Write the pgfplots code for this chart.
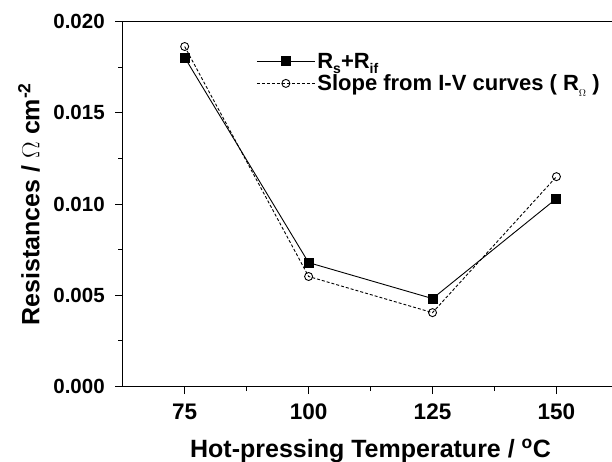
\documentclass[border=0pt]{standalone}
\usepackage{pgfplots}
\pgfplotsset{compat=1.18}
\usetikzlibrary{calc}
\usepackage{fontspec}
\setmainfont{Liberation Sans}
\newcommand\sub[1]{\raisebox{-5.5bp}{\fontsize{14bp}{14bp}\selectfont #1}}
\begin{document}
\begin{tikzpicture}
\begin{axis}[
  scale only axis,
  width=495.6bp, height=365bp,
  xmin=62.5, xmax=162.5,
  ymin=0, ymax=0.020,
  axis line style={line width=1.2bp},
  tick style={line width=1bp, black},
  tick align=outside,
  xtick pos=bottom, ytick pos=left,
  xtick={75,100,125,150},
  ytick={0,0.005,0.010,0.015,0.020},
  minor x tick num=1, minor y tick num=1,
  major tick length=7.5bp, minor tick length=4.5bp,
  scaled y ticks=false,
  /pgf/number format/assume math mode=true,
  yticklabel style={font=\fontsize{20.5bp}{24bp}\selectfont\bfseries, xshift=-7bp,
    /pgf/number format/.cd, fixed, fixed zerofill, precision=3},
  xticklabel style={font=\fontsize{22.5bp}{24bp}\selectfont\bfseries, yshift=-6bp},
  xlabel={Hot-pressing Temperature / \textsuperscript{o}C},
  ylabel={Resistances / $\Omega$ cm\textsuperscript{-2}},
  label style={font=\fontsize{25bp}{28bp}\selectfont\bfseries},
  xlabel style={at={(axis description cs:0.5,0)}, anchor=base, yshift=-70.5bp},
  ylabel style={at={(axis description cs:0,0.5)}, anchor=center, yshift=93.7bp},
  legend style={draw=none, fill=none, at={(axis description cs:0.2633,0.925)}, anchor=north west,
    font=\fontsize{22bp}{24bp}\selectfont\bfseries, row sep=1bp},
  legend cell align=left,
  legend image code/.code={\draw[mark repeat=2,mark phase=2,#1] plot coordinates {(0bp,0bp)(29bp,0bp)(58bp,0bp)};},
]
\addplot[black, line width=0.9bp, mark=square*, mark size=4.5bp, mark options={solid, fill=black}]
  coordinates {(75,0.01803) (100,0.00679) (125,0.00482) (150,0.0103)};
\addlegendentry{R\sub{s}+R\sub{if}}
\addplot[black, line width=0.9bp, dash pattern=on 3bp off 2bp, mark=o, mark size=4bp, mark options={solid, fill=white}]
  coordinates {(75,0.01863) (100,0.00603) (125,0.00405) (150,0.0115)};
\addlegendentry{Slope from I-V curves ( R\sub{$\scriptstyle\Omega$} )}
\end{axis}
\pgfresetboundingbox
\path[use as bounding box] ($(current axis.south west)+(-122.7bp,-74.5bp)$) rectangle ($(current axis.north east)+(-6.4bp,21.5bp)$);
\end{tikzpicture}
\end{document}
